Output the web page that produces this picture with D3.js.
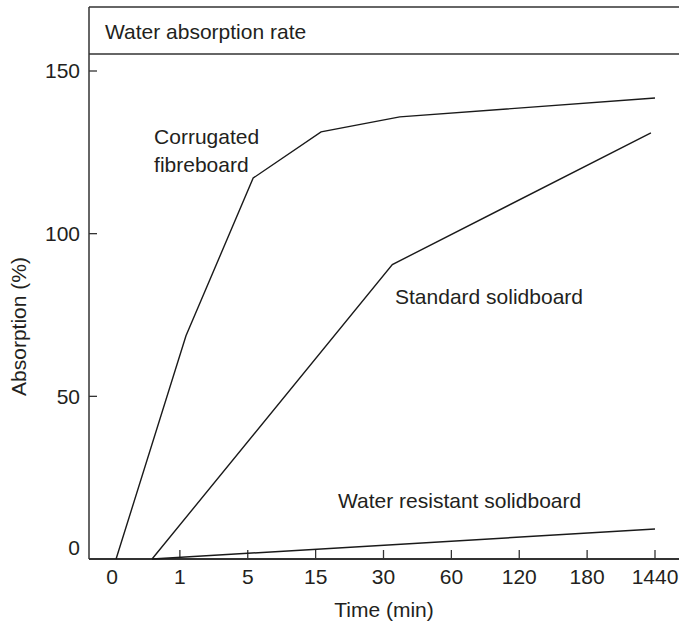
<!DOCTYPE html>
<html>
<head>
<meta charset="utf-8">
<script src="https://cdn.jsdelivr.net/npm/d3@7"></script>
<style>
  html, body { margin: 0; padding: 0; background: #fff; }
  svg { display: block; }
  text { font-family: "Liberation Sans", Arial, Helvetica, sans-serif; fill: #231f20; }
</style>
</head>
<body>
<svg id="chart" width="679" height="623"></svg>
<script>
// Time categories along the x axis (minutes) and their tick labels
const timeCategories = ["0", "1", "5", "15", "30", "60", "120", "180", "1440"];
const absorptionTicks = [0, 50, 100, 150];

// Each series: positions along the category axis (0 = "0", 8 = "1440") and absorption (%)
const corrugatedPos = [0.06, 1.09, 2.08, 3.08, 4.24, 8.0];
const corrugatedVal = [0, 68.6, 117.1, 131.3, 135.9, 141.7];

const standardPos = [0.59, 4.13, 7.94];
const standardVal = [0, 90.5, 131];

const resistantPos = [0.59, 8.0];
const resistantVal = [0, 9.2];

const seriesLabels = [
  { lines: ["Corrugated", "fibreboard"], pos: 0.62, val: 127.5 },
  { lines: ["Standard solidboard"], pos: 4.17, val: 78.5 },
  { lines: ["Water resistant solidboard"], pos: 3.33, val: 15.8 }
];

const W = 679, H = 623;
const frame = { left: 89, top: 7, headerBottom: 54, bottom: 559, right: W };

const svg = d3.select("#chart");

const x = d3.scaleLinear().domain([0, timeCategories.length - 1]).range([112, 655]);
const y = d3.scaleLinear().domain([0, 150]).range([frame.bottom, 71]);

const ink = "#333";

// Frame: header box and axes
svg.append("line").attr("x1", frame.left).attr("x2", frame.right)
  .attr("y1", frame.top).attr("y2", frame.top)
  .attr("stroke", ink).attr("stroke-width", 1.5);
svg.append("line").attr("x1", frame.left).attr("x2", frame.right)
  .attr("y1", frame.headerBottom).attr("y2", frame.headerBottom)
  .attr("stroke", ink).attr("stroke-width", 1.3);
svg.append("line").attr("x1", frame.left).attr("x2", frame.left)
  .attr("y1", frame.top).attr("y2", frame.bottom)
  .attr("stroke", ink).attr("stroke-width", 1.5);
svg.append("line").attr("x1", frame.left).attr("x2", frame.right)
  .attr("y1", frame.bottom).attr("y2", frame.bottom)
  .attr("stroke", ink).attr("stroke-width", 1.8);

svg.append("text")
  .attr("x", 105).attr("y", 39)
  .attr("font-size", 21)
  .text("Water absorption rate");

// X axis: ticks point inward, none at the origin category
const xAxisG = svg.append("g").attr("transform", `translate(0,${frame.bottom})`);
const xTicks = xAxisG.selectAll("g.xt").data(timeCategories).join("g")
  .attr("class", "xt")
  .attr("transform", (d, i) => `translate(${x(i)},0)`);
xTicks.filter((d, i) => i > 0).append("line")
  .attr("y1", 0).attr("y2", -9).attr("stroke", ink).attr("stroke-width", 1.3);
xTicks.append("text")
  .attr("y", 25).attr("text-anchor", "middle").attr("font-size", 21)
  .text(d => d);

svg.append("text")
  .attr("x", (frame.left + frame.right) / 2).attr("y", 617)
  .attr("text-anchor", "middle").attr("font-size", 21)
  .text("Time (min)");

// Y axis: ticks point inward
const yAxisG = svg.append("g");
const yTicks = yAxisG.selectAll("g.yt").data(absorptionTicks).join("g")
  .attr("class", "yt")
  .attr("transform", d => `translate(${frame.left},${y(d)})`);
yTicks.filter(d => d > 0).append("line")
  .attr("x1", 0).attr("x2", 8).attr("stroke", ink).attr("stroke-width", 1.3);
yTicks.append("text")
  .attr("x", -9)
  .attr("dy", d => d === 0 ? "-0.2em" : "0.35em")
  .attr("text-anchor", "end").attr("font-size", 21)
  .text(d => d);

svg.append("text")
  .attr("transform", `translate(26,${(frame.headerBottom + frame.bottom) / 2 + 20}) rotate(-90)`)
  .attr("text-anchor", "middle").attr("font-size", 21)
  .text("Absorption (%)");

// Series lines
const line = d3.line().x(d => x(d[0])).y(d => y(d[1]));
const series = [
  d3.zip(corrugatedPos, corrugatedVal),
  d3.zip(standardPos, standardVal),
  d3.zip(resistantPos, resistantVal)
];
svg.append("g").selectAll("path").data(series).join("path")
  .attr("d", line)
  .attr("fill", "none")
  .attr("stroke", "#1a1a1a")
  .attr("stroke-width", 1.4)
  .attr("stroke-linejoin", "miter");

// Series labels
const lbl = svg.append("g").selectAll("text").data(seriesLabels).join("text")
  .attr("x", d => x(d.pos)).attr("y", d => y(d.val))
  .attr("font-size", 21);
lbl.selectAll("tspan").data(d => d.lines.map(t => ({ t, x: x(d.pos) }))).join("tspan")
  .attr("x", d => d.x)
  .attr("dy", (d, i) => i === 0 ? 0 : 28)
  .text(d => d.t);
</script>
</body>
</html>
